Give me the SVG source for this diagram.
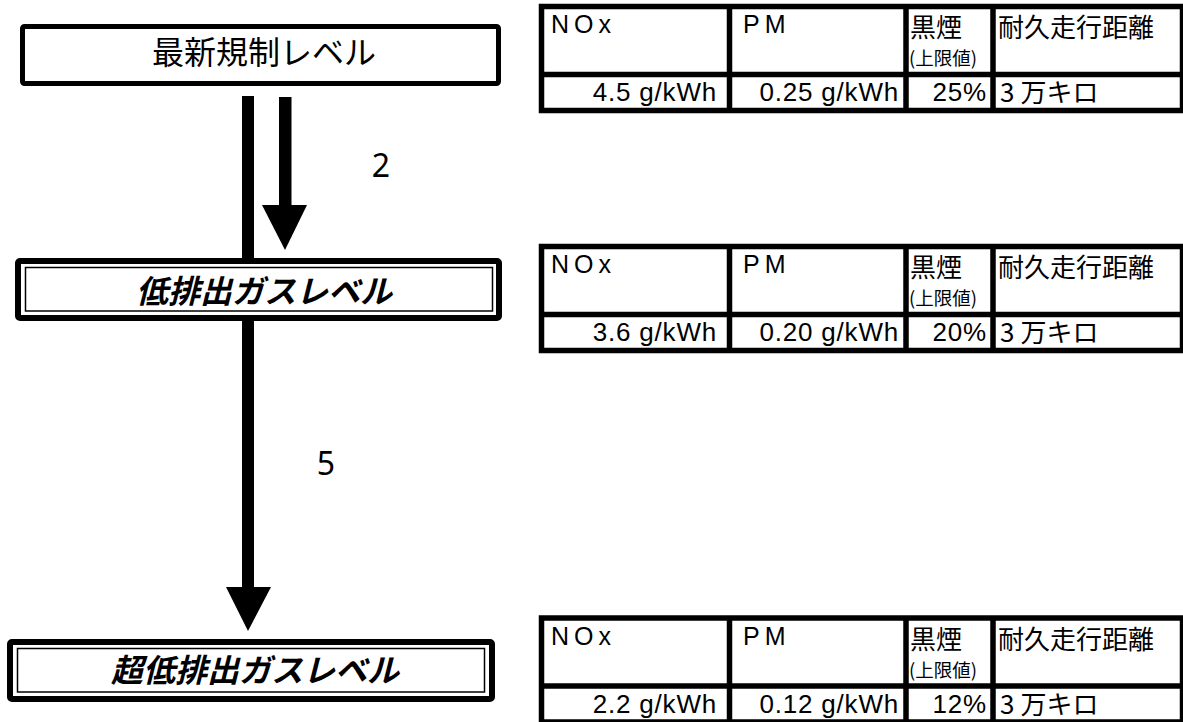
<svg xmlns="http://www.w3.org/2000/svg" width="1183" height="722" viewBox="0 0 1183 722">
<style>
.bg{fill:#fff}
.box{fill:#fff;stroke:#000;stroke-linejoin:round}
.inner{fill:none;stroke:#000;stroke-width:1.5}
.jp{font-family:"Noto Sans CJK JP","Noto Sans",sans-serif;fill:#000}
.lat{font-family:"Liberation Sans",Arial,sans-serif;fill:#000}
.num{font-family:"Noto Sans","DejaVu Sans",sans-serif;font-size:32px;fill:#000}
.ttl{font-size:32px;text-anchor:middle}
.em{font-weight:bold;font-style:italic}
.tb{fill:#fff;stroke:#000;stroke-width:5.5}
.tl{stroke:#000;stroke-width:5.5}
.h{font-size:25px;letter-spacing:5px}
.v{font-size:26px;letter-spacing:0.8px;text-anchor:end}
.c{font-size:26px}
.s{font-size:18.5px}
</style>
<rect class="bg" x="0" y="0" width="1183" height="722"/>
<g id="connectors">
  <rect x="242" y="96" width="12" height="492"/>
  <polygon points="226,587 271,587 248,631"/>
  <rect x="279" y="97" width="12.5" height="109"/>
  <polygon points="262,205 307,205 285,250"/>
  <text class="num" x="381" y="177" text-anchor="middle">2</text>
  <text class="num" x="326" y="475" text-anchor="middle">5</text>
</g>
<g id="node-latest">
  <rect class="box" x="22.5" y="26.5" width="476" height="57" rx="2" stroke-width="5"/>
  <text class="jp ttl" x="264" y="64">最新規制レベル</text>
</g>
<g id="node-low">
  <rect class="box" x="18" y="261" width="481" height="57" rx="2" stroke-width="6"/>
  <rect class="inner" x="25.5" y="267.5" width="467" height="43.5"/>
  <text class="jp ttl em" x="264" y="303">低排出ガスレベル</text>
</g>
<g id="node-ultralow">
  <rect class="box" x="10" y="642" width="482" height="57" rx="2" stroke-width="6"/>
  <rect class="inner" x="17.5" y="648.5" width="467" height="43.5"/>
  <text class="jp ttl em" x="255" y="682">超低排出ガスレベル</text>
</g>
<g id="table-latest">
  <rect class="tb" x="541.5" y="6.5" width="641" height="104"/>
  <line class="tl" x1="729.5" y1="6.5" x2="729.5" y2="110.5"/>
  <line class="tl" x1="906" y1="6.5" x2="906" y2="110.5"/>
  <line class="tl" x1="993" y1="6.5" x2="993" y2="110.5"/>
  <line class="tl" x1="541.5" y1="74.5" x2="1182.5" y2="74.5"/>
  <text class="lat h" x="551" y="33">NOx</text>
  <text class="lat h" x="743" y="33">PM</text>
  <text class="jp c" x="910" y="37">黒煙</text>
  <text class="jp s" x="909" y="65">(上限値)</text>
  <text class="jp c" x="998" y="37">耐久走行距離</text>
  <text class="lat v" x="717" y="101">4.5 g/kWh</text>
  <text class="lat v" x="899" y="101">0.25 g/kWh</text>
  <text class="lat v" x="987" y="101">25%</text>
  <text class="jp c" x="1000" y="102">3<tspan dx="6">万キロ</tspan></text>
</g>
<g id="table-low" transform="translate(0,240)">
  <rect class="tb" x="541.5" y="6.5" width="641" height="104"/>
  <line class="tl" x1="729.5" y1="6.5" x2="729.5" y2="110.5"/>
  <line class="tl" x1="906" y1="6.5" x2="906" y2="110.5"/>
  <line class="tl" x1="993" y1="6.5" x2="993" y2="110.5"/>
  <line class="tl" x1="541.5" y1="74.5" x2="1182.5" y2="74.5"/>
  <text class="lat h" x="551" y="33">NOx</text>
  <text class="lat h" x="743" y="33">PM</text>
  <text class="jp c" x="910" y="37">黒煙</text>
  <text class="jp s" x="909" y="65">(上限値)</text>
  <text class="jp c" x="998" y="37">耐久走行距離</text>
  <text class="lat v" x="717" y="101">3.6 g/kWh</text>
  <text class="lat v" x="899" y="101">0.20 g/kWh</text>
  <text class="lat v" x="987" y="101">20%</text>
  <text class="jp c" x="1000" y="102">3<tspan dx="6">万キロ</tspan></text>
</g>
<g id="table-ultralow" transform="translate(0,611.5)">
  <rect class="tb" x="541.5" y="6.5" width="641" height="104"/>
  <line class="tl" x1="729.5" y1="6.5" x2="729.5" y2="110.5"/>
  <line class="tl" x1="906" y1="6.5" x2="906" y2="110.5"/>
  <line class="tl" x1="993" y1="6.5" x2="993" y2="110.5"/>
  <line class="tl" x1="541.5" y1="74.5" x2="1182.5" y2="74.5"/>
  <text class="lat h" x="551" y="33">NOx</text>
  <text class="lat h" x="743" y="33">PM</text>
  <text class="jp c" x="910" y="37">黒煙</text>
  <text class="jp s" x="909" y="65">(上限値)</text>
  <text class="jp c" x="998" y="37">耐久走行距離</text>
  <text class="lat v" x="717" y="101">2.2 g/kWh</text>
  <text class="lat v" x="899" y="101">0.12 g/kWh</text>
  <text class="lat v" x="987" y="101">12%</text>
  <text class="jp c" x="1000" y="102">3<tspan dx="6">万キロ</tspan></text>
</g>
</svg>
